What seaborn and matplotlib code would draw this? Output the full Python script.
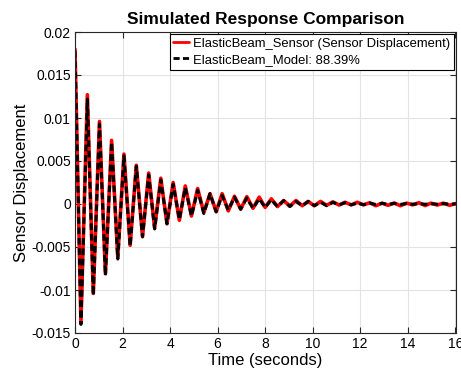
import numpy as np
import pandas as pd
import matplotlib
matplotlib.use("Agg")
import matplotlib.pyplot as plt
import seaborn as sns

# Extrema of the oscillation (time in s)
times = [0.00, 0.25, 0.52, 0.77, 1.03, 1.28, 1.54, 1.80, 2.06, 2.32,
         2.58, 2.84, 3.10, 3.35, 3.61, 3.87, 4.13, 4.39, 4.64, 4.90,
         5.16, 5.42, 5.68, 5.94, 6.19, 6.45, 6.71, 6.97, 7.23, 7.49,
         7.75, 8.00, 8.26, 8.52, 8.78, 9.04, 9.30, 9.56, 9.81, 10.07,
         10.33, 10.59, 10.85, 11.11, 11.36, 11.62, 11.88, 12.14, 12.40, 12.66,
         12.92, 13.17, 13.43, 13.69, 13.95, 14.21, 14.47, 14.73, 14.98, 15.24,
         15.50, 15.76, 16.02]

sensor = [0.0180, -0.0138, 0.0127, -0.0104, 0.0096, -0.0081, 0.0074, -0.0062, 0.0058, -0.0048,
          0.0045, -0.0038, 0.0036, -0.0028, 0.0030, -0.0023, 0.0025, -0.0019, 0.0021, -0.0014,
          0.0018, -0.0010, 0.0012, -0.0009, 0.0012, -0.0008, 0.0009, -0.0006, 0.00085, -0.0005,
          0.0008, -0.0004, 0.0006, -0.0003, 0.0004, -0.00023, 0.0004, -0.0002, 0.0003, -0.0002,
          0.0003, -0.00015, 0.00025, -0.00012, 0.0002, -0.0001, 0.0002, -0.0001, 0.00015, -0.0002,
          0.0001, -0.00015, 0.00012, -0.0002, 0.0001, -0.0001, 0.00015, -0.00018, 0.0001, -0.00012,
          0.0001, -0.00015, 0.00005]

model = [0.0178, -0.0140, 0.0122, -0.0106, 0.0093, -0.0083, 0.0072, -0.0064, 0.0056, -0.0049,
         0.0044, -0.0038, 0.0034, -0.0029, 0.0028, -0.0023, 0.0023, -0.0018, 0.0019, -0.0014,
         0.0016, -0.0011, 0.0012, -0.0009, 0.0010, -0.0007, 0.0008, -0.0006, 0.0007, -0.0005,
         0.0006, -0.0004, 0.0005, -0.0003, 0.0004, -0.0003, 0.0003, -0.0002, 0.0003, -0.0002,
         0.0002, -0.0002, 0.0002, -0.0001, 0.00015, -0.0001, 0.0001, -0.00008, 0.0001, -0.00006,
         0.00008, -0.00005, 0.00006, -0.00004, 0.00005, -0.00003, 0.00004, -0.00003, 0.00003, -0.00002,
         0.00003, -0.00002, 0.00002]

xticks = [0, 2, 4, 6, 8, 10, 12, 14, 16]
yticks = [-0.015, -0.01, -0.005, 0, 0.005, 0.01, 0.015, 0.02]
ytick_labels = ["-0.015", "-0.01", "-0.005", "0", "0.005", "0.01", "0.015", "0.02"]

sns.set_theme(style="whitegrid")
plt.rcParams['font.family'] = ['Liberation Sans', 'DejaVu Sans']
plt.rcParams['text.color'] = 'black'

fig = plt.figure(figsize=(4.61, 3.80), dpi=100)
ax = fig.add_axes([75/461, 1-333/380, (456-75)/461, (333-32)/380])

df = pd.DataFrame({"t": times, "sensor": sensor, "model": model})
sns.lineplot(data=df, x="t", y="sensor", ax=ax, color=(1, 0, 0), linewidth=2.6,
             label="ElasticBeam_Sensor (Sensor Displacement)", sort=False)
sns.lineplot(data=df, x="t", y="model", ax=ax, color="black", linewidth=2.2,
             dashes=False, label="ElasticBeam_Model: 88.39%", sort=False)
ax.lines[1].set_dashes([2.2, 1.2])
for ln in ax.lines:
    ln.set_solid_joinstyle('round')
    ln.set_dash_joinstyle('round')

ax.set_xlim(0, 16.03)
ax.set_ylim(-0.015, 0.02)
ax.set_xticks(xticks)
ax.set_xticklabels([str(v) for v in xticks])
ax.set_yticks(yticks)
ax.set_yticklabels(ytick_labels)
ax.tick_params(axis='both', which='both', direction='in', length=4, width=0.8,
               labelsize=10, colors='#262626', top=True, right=True,
               bottom=True, left=True, pad=3)
ax.tick_params(axis='both', labelcolor='black')
ax.grid(True, color='#e3e3e3', linewidth=0.8)
ax.set_facecolor('white')
for s in ax.spines.values():
    s.set_visible(True)
    s.set_color('#262626')
    s.set_linewidth(0.8)

ax.set_xlabel("Time (seconds)", fontsize=12, color='black', labelpad=1)
ax.set_ylabel("Sensor Displacement", fontsize=12, color='black', labelpad=2)
ax.set_title("Simulated Response Comparison", fontsize=12.5, fontweight='bold',
             pad=6, color='black')

leg = ax.legend(loc='upper right', fontsize=9.4, frameon=True, fancybox=False,
                edgecolor='black', framealpha=1, borderpad=0.3, labelspacing=0.3,
                handlelength=1.2, handletextpad=0.3, borderaxespad=0.15)
leg.get_frame().set_linewidth(0.8)
for txt in leg.get_texts():
    txt.set_color('black')
for h in leg.get_lines():
    h.set_linewidth(2.0)

fig.savefig("out.png", dpi=100)
